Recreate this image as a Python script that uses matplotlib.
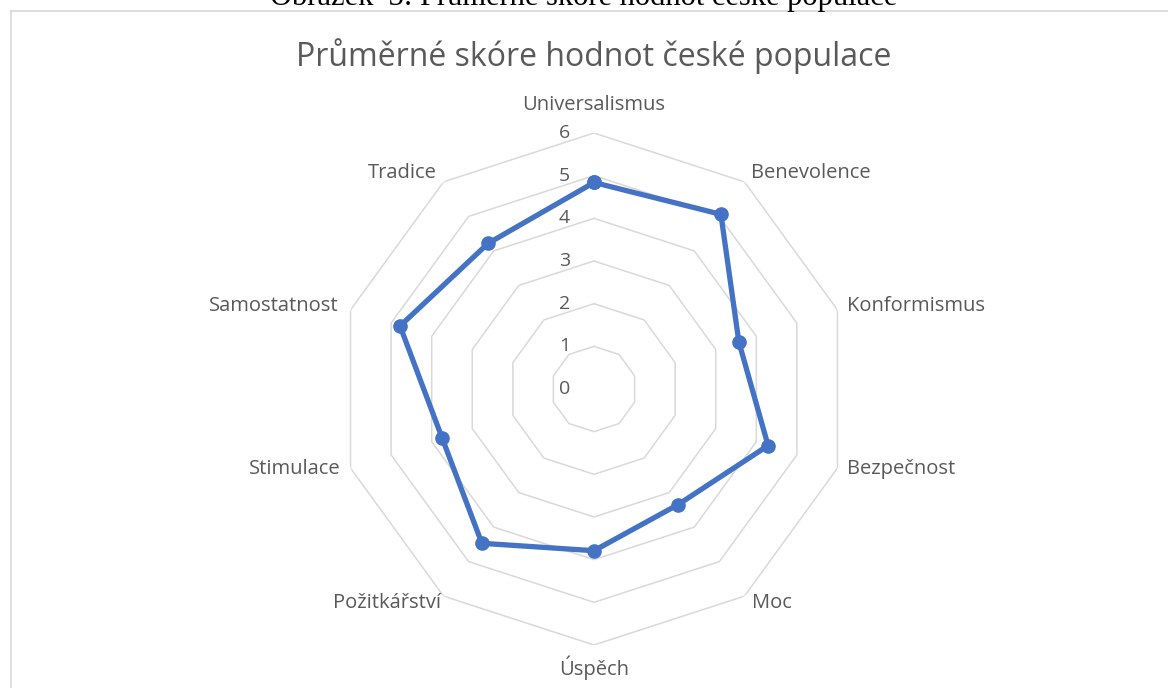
import numpy as np
import matplotlib
matplotlib.use("Agg")
import matplotlib.pyplot as plt
from matplotlib.lines import Line2D

plt.rcParams['font.family'] = ['Open Sans', 'DejaVu Sans']

categories = ['Universalismus', 'Benevolence', 'Konformismus', 'Bezpečnost', 'Moc',
              'Úspěch', 'Požitkářství', 'Stimulace', 'Samostatnost', 'Tradice']
values = [4.84, 5.06, 3.57, 4.29, 3.35, 3.79, 4.47, 3.74, 4.78, 4.22]
ticks = [0, 1, 2, 3, 4, 5, 6]

title = 'Průměrné skóre hodnot české populace'
caption = 'Obrázek  3: Průměrné skóre hodnot české populace'

W, H = 1168, 688
fig = plt.figure(figsize=(W / 100, H / 100), dpi=100)

cx, cy, R = 594, 389, 256
ax = fig.add_axes([(cx - R) / W, (H - cy - R) / H, 2 * R / W, 2 * R / H], projection='polar')
ax.set_theta_zero_location('N')
ax.set_theta_direction(-1)
ax.set_ylim(0, 6)
ax.grid(False)
ax.spines['polar'].set_visible(False)
ax.set_xticks([])
ax.set_yticks([])
ax.patch.set_alpha(0)

n = len(categories)
theta = np.arange(n) * 2 * np.pi / n
th_closed = np.append(theta, theta[0])

grey = '#d9d9d9'
txt = '#595959'

# decagon gridlines
for t in ticks[1:]:
    ax.plot(th_closed, [t] * (n + 1), color=grey, lw=1.1, zorder=1)

# data
vals = np.append(values, values[0])
ax.plot(th_closed, vals, color='#4472C4', lw=3.8, marker='o', ms=9.5,
        solid_joinstyle='round', zorder=3)

# tick labels
for t in ticks:
    ax.annotate(str(t), (0, t), xytext=(-24, 0), textcoords='offset pixels',
                ha='right', va='center', fontsize=14, color=txt)

# category labels
offsets = [(0, 28, 'center', 'center'), (7, 9, 'left', 'center'), (10, 4, 'left', 'center'),
           (10, -1, 'left', 'center'), (8, -7, 'left', 'center'), (0, -23, 'center', 'center'),
           (-3, -7, 'right', 'center'), (-10, -1, 'right', 'center'), (-12, 4, 'right', 'center'),
           (-7, 9, 'right', 'center')]
for th, lab, (dx, dy, ha, va) in zip(theta, categories, offsets):
    ax.annotate(lab, (th, 6), xytext=(dx, dy), textcoords='offset pixels',
                ha=ha, va=va, fontsize=14.5, color=txt)

fig.text(cx / W, 1 - 56 / H, title, ha='center', va='center', fontsize=23, color=txt)
fig.text(584 / W, 1 - 5 / H, caption, ha='center', va='baseline', fontsize=22,
         family='Liberation Serif', color='black')

# chart area border
fig.add_artist(Line2D([10.5 / W, 10.5 / W], [0, 1 - 10.5 / H], color=grey, lw=1.2))
fig.add_artist(Line2D([10.5 / W, 1], [1 - 10.5 / H, 1 - 10.5 / H], color=grey, lw=1.2))

fig.savefig('out.png', dpi=100)
